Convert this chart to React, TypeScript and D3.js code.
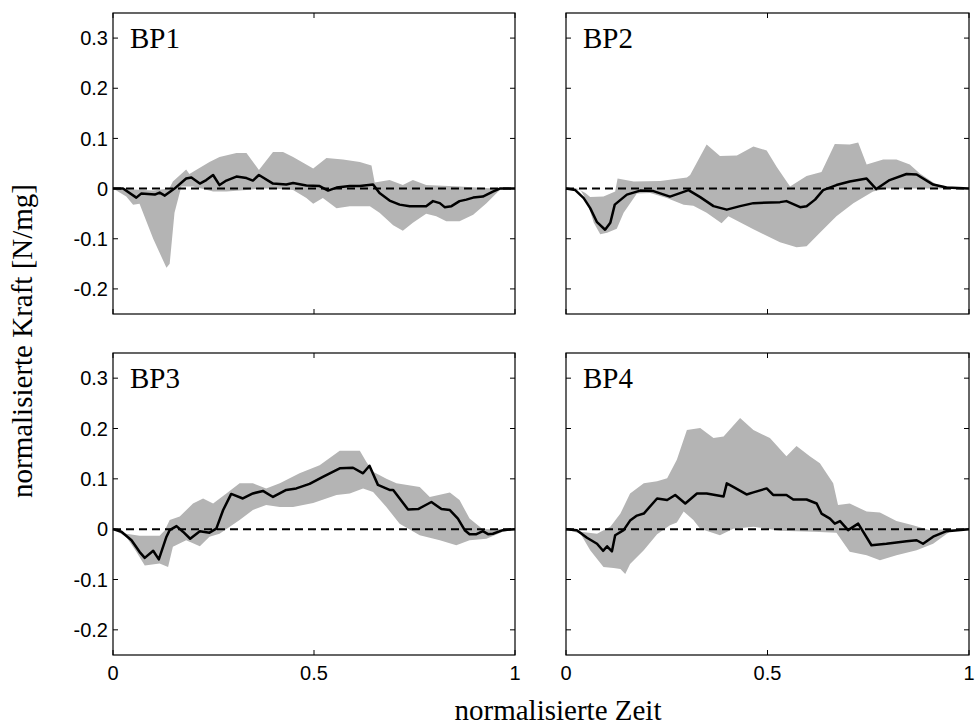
import React from 'react';
import * as d3 from 'd3';

type P = [number, number];

const xTicks = [0, 0.5, 1];
const xTickLabels = ['0', '0.5', '1'];
const yTicks = [-0.2, -0.1, 0, 0.1, 0.2, 0.3];
const yTickLabels = ['-0.2', '-0.1', '0', '0.1', '0.2', '0.3'];
const panelNames = ['BP1', 'BP2', 'BP3', 'BP4'];
const xAxisTitle = 'normalisierte Zeit';
const yAxisTitle = 'normalisierte Kraft [N/mg]';

const bp1Mean: P[] = [[0,0],[0.025,0],[0.058,-0.018],[0.07,-0.01],[0.104,-0.012],[0.116,-0.008],[0.129,-0.014],[0.153,0],[0.182,0.02],[0.195,0.022],[0.216,0.01],[0.232,0.017],[0.249,0.027],[0.265,0.007],[0.282,0.016],[0.307,0.024],[0.332,0.021],[0.348,0.016],[0.363,0.027],[0.398,0.01],[0.431,0.008],[0.448,0.011],[0.481,0.006],[0.514,0.005],[0.535,-0.004],[0.556,0.002],[0.589,0.005],[0.614,0.005],[0.647,0.008],[0.663,-0.009],[0.688,-0.024],[0.713,-0.032],[0.738,-0.035],[0.779,-0.035],[0.796,-0.025],[0.813,-0.029],[0.825,-0.037],[0.842,-0.035],[0.862,-0.025],[0.879,-0.022],[0.896,-0.018],[0.92,-0.016],[0.945,-0.006],[0.962,0],[1,0]];
const bp1Upper: P[] = [[0,0],[0.025,0],[0.05,-0.002],[0.1,-0.004],[0.14,0.0],[0.149,0.014],[0.182,0.038],[0.19,0.029],[0.24,0.053],[0.265,0.063],[0.307,0.071],[0.332,0.071],[0.363,0.037],[0.398,0.073],[0.423,0.073],[0.448,0.063],[0.498,0.04],[0.531,0.061],[0.572,0.058],[0.614,0.053],[0.643,0.046],[0.651,0.012],[0.688,0.017],[0.721,0.007],[0.746,0.017],[0.779,0.007],[0.862,0.004],[0.945,0],[1,0]];
const bp1Lower: P[] = [[0,0],[0.033,-0.016],[0.05,-0.032],[0.066,-0.03],[0.1,-0.1],[0.133,-0.158],[0.141,-0.15],[0.153,-0.048],[0.17,0.004],[0.199,0.004],[0.249,-0.006],[0.282,-0.006],[0.332,-0.003],[0.363,0],[0.398,0],[0.448,-0.003],[0.481,-0.019],[0.498,-0.03],[0.522,-0.019],[0.556,-0.039],[0.589,-0.035],[0.639,-0.035],[0.663,-0.048],[0.697,-0.073],[0.721,-0.084],[0.746,-0.068],[0.779,-0.05],[0.804,-0.055],[0.829,-0.065],[0.862,-0.065],[0.896,-0.052],[0.929,-0.029],[0.962,-0.003],[1,0]];

const bp2Mean: P[] = [[0,0],[0.023,-0.003],[0.044,-0.019],[0.06,-0.039],[0.077,-0.067],[0.097,-0.082],[0.11,-0.068],[0.121,-0.032],[0.151,-0.012],[0.184,-0.004],[0.217,-0.005],[0.258,-0.016],[0.283,-0.009],[0.304,-0.003],[0.333,-0.017],[0.366,-0.035],[0.399,-0.042],[0.432,-0.035],[0.465,-0.029],[0.531,-0.027],[0.547,-0.025],[0.581,-0.037],[0.597,-0.035],[0.618,-0.022],[0.638,-0.003],[0.671,0.007],[0.704,0.014],[0.746,0.02],[0.77,-0.001],[0.803,0.017],[0.845,0.029],[0.87,0.028],[0.911,0.008],[0.944,0.002],[1,0]];
const bp2Upper: P[] = [[0,0],[0.027,0],[0.048,-0.009],[0.06,-0.017],[0.093,-0.016],[0.122,-0.006],[0.128,0.02],[0.168,0.014],[0.234,0.015],[0.3,0.022],[0.308,0.027],[0.349,0.088],[0.382,0.065],[0.424,0.066],[0.465,0.084],[0.498,0.076],[0.523,0.043],[0.556,0.004],[0.597,0.025],[0.634,0.033],[0.667,0.089],[0.704,0.088],[0.725,0.092],[0.746,0.048],[0.787,0.058],[0.82,0.058],[0.853,0.048],[0.878,0.03],[0.919,0.008],[0.96,0.002],[1,0]];
const bp2Lower: P[] = [[0,0],[0.036,-0.003],[0.052,-0.025],[0.069,-0.068],[0.085,-0.091],[0.102,-0.088],[0.126,-0.08],[0.143,-0.048],[0.176,-0.01],[0.209,-0.009],[0.25,-0.019],[0.292,-0.032],[0.316,-0.034],[0.349,-0.048],[0.386,-0.069],[0.403,-0.055],[0.465,-0.081],[0.531,-0.107],[0.572,-0.117],[0.597,-0.115],[0.63,-0.088],[0.671,-0.055],[0.713,-0.029],[0.762,-0.006],[0.795,0],[0.878,0],[1,0]];

const bp3Mean: P[] = [[0,0],[0.021,-0.005],[0.046,-0.022],[0.066,-0.045],[0.079,-0.057],[0.1,-0.043],[0.114,-0.06],[0.133,-0.015],[0.141,-0.002],[0.158,0.006],[0.174,-0.005],[0.192,-0.019],[0.216,-0.004],[0.24,-0.007],[0.257,0.001],[0.274,0.038],[0.294,0.07],[0.323,0.061],[0.348,0.071],[0.373,0.076],[0.398,0.064],[0.431,0.078],[0.456,0.081],[0.489,0.09],[0.522,0.104],[0.564,0.121],[0.597,0.122],[0.622,0.111],[0.638,0.126],[0.659,0.088],[0.688,0.078],[0.697,0.078],[0.734,0.039],[0.759,0.04],[0.792,0.054],[0.817,0.04],[0.838,0.038],[0.858,0.021],[0.875,-0.002],[0.887,-0.01],[0.904,-0.01],[0.92,-0.004],[0.933,-0.01],[0.945,-0.009],[0.97,-0.002],[1,0]];
const bp3Upper: P[] = [[0,0],[0.033,-0.009],[0.066,-0.013],[0.116,-0.013],[0.129,-0.002],[0.141,0.018],[0.166,0.025],[0.199,0.051],[0.224,0.061],[0.249,0.051],[0.282,0.071],[0.315,0.091],[0.348,0.091],[0.381,0.081],[0.415,0.091],[0.464,0.111],[0.514,0.127],[0.564,0.156],[0.614,0.156],[0.63,0.134],[0.647,0.114],[0.68,0.1],[0.705,0.091],[0.763,0.084],[0.788,0.064],[0.838,0.073],[0.862,0.058],[0.887,0.021],[0.92,0],[1,0]];
const bp3Lower: P[] = [[0,0],[0.033,-0.015],[0.058,-0.045],[0.079,-0.072],[0.116,-0.068],[0.137,-0.075],[0.149,-0.035],[0.182,-0.022],[0.216,-0.034],[0.24,-0.015],[0.265,-0.009],[0.315,0.018],[0.348,0.038],[0.381,0.048],[0.415,0.044],[0.448,0.044],[0.498,0.052],[0.556,0.068],[0.589,0.071],[0.622,0.081],[0.647,0.074],[0.68,0.044],[0.713,0.011],[0.763,-0.012],[0.813,-0.022],[0.854,-0.032],[0.887,-0.022],[0.929,-0.019],[0.97,-0.005],[1,0]];

const bp4Mean: P[] = [[0,0],[0.027,-0.002],[0.052,-0.017],[0.077,-0.029],[0.092,-0.043],[0.102,-0.034],[0.114,-0.044],[0.122,-0.012],[0.143,-0.002],[0.159,0.017],[0.176,0.027],[0.193,0.031],[0.226,0.061],[0.251,0.058],[0.271,0.068],[0.296,0.051],[0.325,0.071],[0.349,0.071],[0.391,0.065],[0.399,0.091],[0.415,0.084],[0.448,0.069],[0.465,0.073],[0.498,0.081],[0.514,0.068],[0.547,0.068],[0.564,0.059],[0.597,0.059],[0.622,0.051],[0.634,0.031],[0.655,0.021],[0.667,0.011],[0.68,0.016],[0.7,-0.002],[0.725,0.011],[0.758,-0.032],[0.795,-0.029],[0.845,-0.024],[0.87,-0.022],[0.886,-0.029],[0.911,-0.015],[0.944,-0.004],[1,0]];
const bp4Upper: P[] = [[0,0],[0.036,-0.005],[0.077,-0.009],[0.11,0.005],[0.135,0.031],[0.159,0.071],[0.193,0.091],[0.226,0.095],[0.251,0.101],[0.275,0.138],[0.3,0.197],[0.333,0.201],[0.366,0.181],[0.391,0.184],[0.432,0.221],[0.465,0.197],[0.506,0.181],[0.547,0.145],[0.572,0.165],[0.605,0.145],[0.63,0.131],[0.663,0.091],[0.675,0.048],[0.704,0.051],[0.746,0.035],[0.779,0.033],[0.82,0.016],[0.861,0.008],[0.903,-0.002],[0.944,0],[1,0]];
const bp4Lower: P[] = [[0,0],[0.036,-0.009],[0.06,-0.042],[0.093,-0.075],[0.118,-0.077],[0.135,-0.079],[0.147,-0.089],[0.159,-0.069],[0.193,-0.042],[0.226,-0.01],[0.258,0.008],[0.275,0.013],[0.292,0.035],[0.316,0.018],[0.333,0.001],[0.382,-0.012],[0.415,0.001],[0.465,0.005],[0.531,-0.003],[0.614,-0.005],[0.671,-0.007],[0.704,-0.045],[0.746,-0.052],[0.779,-0.062],[0.82,-0.052],[0.87,-0.042],[0.911,-0.029],[0.952,-0.005],[1,0]];

const SANS = 'Liberation Sans, Arial, Helvetica, sans-serif';
const SERIF = 'Liberation Serif, Times New Roman, serif';

interface PanelProps {
  left: number; top: number; right: number; bottom: number;
  name: string; mean: P[]; upper: P[]; lower: P[];
  showX: boolean; showY: boolean;
}

function Panel({ left, top, right, bottom, name, mean, upper, lower, showX, showY }: PanelProps) {
  const x = d3.scaleLinear().domain([0, 1]).range([left, right]);
  const y = d3.scaleLinear().domain([-0.25, 0.35]).range([bottom, top]);
  const line = d3.line<P>().x(d => x(d[0])).y(d => y(d[1]));
  const bandPath = line([...upper, ...[...lower].reverse()]) + 'Z';
  const meanPath = line(mean) || '';
  const tl = 5;
  return (
    <g>
      <path d={bandPath} fill="#b4b4b4" stroke="none" />
      <line x1={x(0)} x2={x(1)} y1={y(0)} y2={y(0)} stroke="#000" strokeWidth={2} strokeDasharray="8,5" />
      <path d={meanPath} fill="none" stroke="#000" strokeWidth={2.5} strokeLinejoin="round" />
      <rect x={left} y={top} width={right - left} height={bottom - top} fill="none" stroke="#000" strokeWidth={1.2} />
      {yTicks.map((t, i) => (
        <g key={'y' + i}>
          <line x1={left} x2={left + tl} y1={y(t)} y2={y(t)} stroke="#000" strokeWidth={1} />
          <line x1={right - tl} x2={right} y1={y(t)} y2={y(t)} stroke="#000" strokeWidth={1} />
          {showY && (
            <text x={left - 5} y={y(t)} dy="0.36em" textAnchor="end" fontFamily={SANS} fontSize={20}>{yTickLabels[i]}</text>
          )}
        </g>
      ))}
      {xTicks.map((t, i) => (
        <g key={'x' + i}>
          <line x1={x(t)} x2={x(t)} y1={bottom} y2={bottom - tl} stroke="#000" strokeWidth={1} />
          <line x1={x(t)} x2={x(t)} y1={top} y2={top + tl} stroke="#000" strokeWidth={1} />
          {showX && (
            <text x={x(t)} y={bottom + 25} textAnchor="middle" fontFamily={SANS} fontSize={20}>{xTickLabels[i]}</text>
          )}
        </g>
      ))}
      <text x={left + 17} y={top + 35} fontFamily={SERIF} fontSize={29}>{name}</text>
    </g>
  );
}

export default function App() {
  const cols = [[113, 515], [566, 969]];
  const rows = [[13, 314], [353, 655]];
  const series = [
    [bp1Mean, bp1Upper, bp1Lower],
    [bp2Mean, bp2Upper, bp2Lower],
    [bp3Mean, bp3Upper, bp3Lower],
    [bp4Mean, bp4Upper, bp4Lower],
  ];
  return (
    <svg width={975} height={726} style={{ position: 'absolute', left: 0, top: 0, background: '#fff' }}>
      {series.map((s, i) => {
        const c = cols[i % 2];
        const r = rows[Math.floor(i / 2)];
        return (
          <Panel key={i} left={c[0]} right={c[1]} top={r[0]} bottom={r[1]}
            name={panelNames[i]} mean={s[0]} upper={s[1]} lower={s[2]}
            showX={Math.floor(i / 2) === 1} showY={i % 2 === 0} />
        );
      })}
      <text x={558} y={720} textAnchor="middle" fontFamily={SERIF} fontSize={29}>{xAxisTitle}</text>
      <text transform="translate(32,341) rotate(-90)" textAnchor="middle" fontFamily={SERIF} fontSize={29}>{yAxisTitle}</text>
    </svg>
  );
}
